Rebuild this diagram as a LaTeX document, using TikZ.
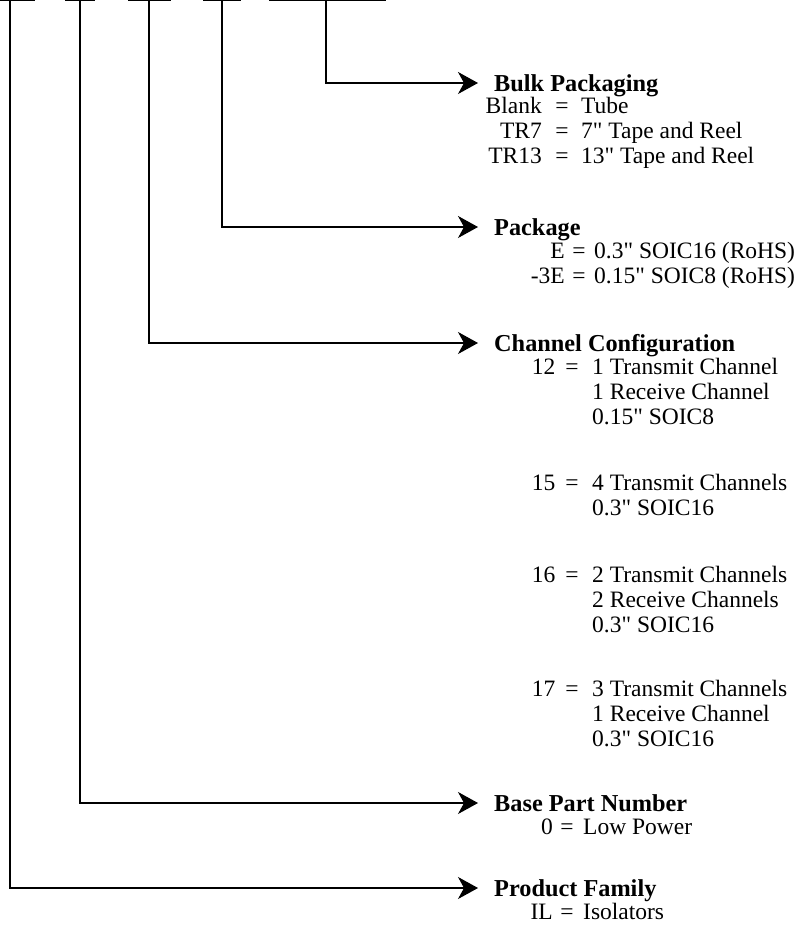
\documentclass[tikz,border=0pt]{standalone}
\usepackage{fontspec}
\setmainfont{Liberation Serif}[Ligatures=TeXOff]
\usetikzlibrary{arrows.meta}
\begin{document}
\begin{tikzpicture}[x=1pt,y=-1pt,
  conn/.style={draw=black,line width=1.1pt,-{Stealth[length=20pt,width=22pt,inset=6pt]}},
  bar/.style={draw=black,line width=2.2pt},
  head/.style={anchor=west,inner sep=0pt,font=\fontsize{24.3}{28}\selectfont\bfseries,text height=16.2pt,text depth=0pt},
  txt/.style={inner sep=0pt,font=\fontsize{23.5}{27}\selectfont,text height=15.6pt,text depth=0pt},
  keyt/.style={txt,anchor=east},
  eqt/.style={txt,anchor=center},
  valt/.style={txt,anchor=west}]
\useasboundingbox (0,0) rectangle (798,932);
% top bars
\draw[bar] (0,0) -- (35,0);
\draw[bar] (65,0) -- (95,0);
\draw[bar] (128,0) -- (171,0);
\draw[bar] (203,0) -- (241,0);
\draw[bar] (269,0) -- (386,0);
\coordinate (t1) at (10,0);
\coordinate (t2) at (80,0);
\coordinate (t3) at (149,0);
\coordinate (t4) at (222,0);
\coordinate (t5) at (326,0);
% headings
\node[head] (hb) at (494,83) {Bulk Packaging};
\node[head] (hp) at (494,227) {Package};
\node[head] (hc) at (494,343) {Channel Configuration};
\node[head] (hn) at (494,803) {Base Part Number};
\node[head] (hf) at (494,888) {Product Family};
% connectors
\draw[conn] (t5) |- ([xshift=-16pt]hb.west);
\draw[conn] (t4) |- ([xshift=-16pt]hp.west);
\draw[conn] (t3) |- ([xshift=-16pt]hc.west);
\draw[conn] (t2) |- ([xshift=-16pt]hn.west);
\draw[conn] (t1) |- ([xshift=-16pt]hf.west);
% Bulk packaging
\node[keyt] (b1k) at (542,106) {Blank};
\node[eqt] (b1e) at (562,106) {=};
\node[valt] (b1v) at (581,106) {Tube};
\node[keyt] (b2k) at (542,131) {TR7};
\node[eqt] (b2e) at (562,131) {=};
\node[valt] (b2v) at (581,131) {7" Tape and Reel};
\node[keyt] (b3k) at (542,156) {TR13};
\node[eqt] (b3e) at (562,156) {=};
\node[valt] (b3v) at (581,156) {13" Tape and Reel};
% Package
\node[keyt] (p1k) at (565,251) {E};
\node[eqt] (p1e) at (579,251) {=};
\node[valt] (p1v) at (594,251) {0.3" SOIC16 (RoHS)};
\node[keyt] (p2k) at (565,276) {-3E};
\node[eqt] (p2e) at (579,276) {=};
\node[valt] (p2v) at (594,276) {0.15" SOIC8 (RoHS)};
% Channel configuration
\node[keyt] (c1k) at (555.5,367) {12};
\node[eqt] (c1e) at (572,367) {=};
\node[valt] (c1v) at (592,367) {1 Transmit Channel};
\node[valt] (c1b) at (592,392) {1 Receive Channel};
\node[valt] (c1c) at (592,417) {0.15" SOIC8};
\node[keyt] (c2k) at (555.5,482.5) {15};
\node[eqt] (c2e) at (572,482.5) {=};
\node[valt] (c2v) at (592,482.5) {4 Transmit Channels};
\node[valt] (c2b) at (592,507.5) {0.3" SOIC16};
\node[keyt] (c3k) at (555.5,575) {16};
\node[eqt] (c3e) at (572,575) {=};
\node[valt] (c3v) at (592,575) {2 Transmit Channels};
\node[valt] (c3b) at (592,600) {2 Receive Channels};
\node[valt] (c3c) at (592,625) {0.3" SOIC16};
\node[keyt] (c4k) at (555.5,689) {17};
\node[eqt] (c4e) at (572,689) {=};
\node[valt] (c4v) at (592,689) {3 Transmit Channels};
\node[valt] (c4b) at (592,714) {1 Receive Channel};
\node[valt] (c4c) at (592,739) {0.3" SOIC16};
% Base part number
\node[keyt] (n1k) at (553,827) {0};
\node[eqt] (n1e) at (567,827) {=};
\node[valt] (n1v) at (583,827) {Low Power};
% Product family
\node[keyt] (f1k) at (553,912) {IL};
\node[eqt] (f1e) at (567,912) {=};
\node[valt] (f1v) at (583,912) {Isolators};
\end{tikzpicture}
\end{document}
